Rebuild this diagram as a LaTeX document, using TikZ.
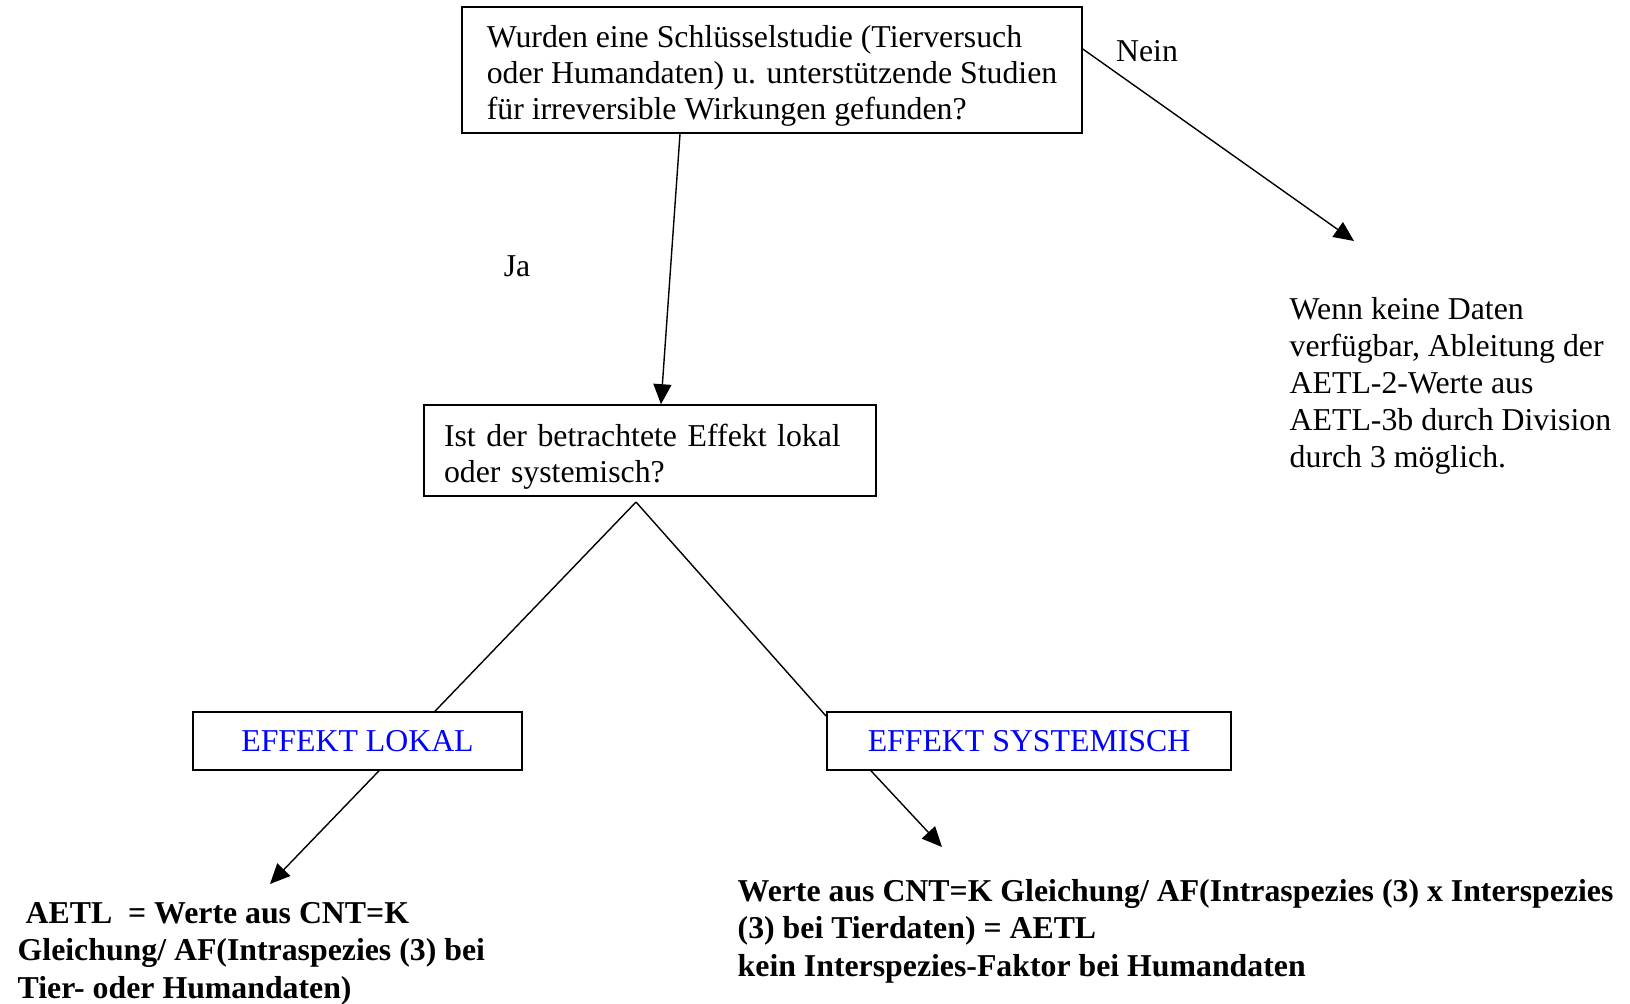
\documentclass[tikz,border=0pt]{standalone}
\usepackage{fontspec}
\setmainfont{Liberation Serif}
\usetikzlibrary{arrows.meta,positioning}

\newcommand{\oben}{\rule{0pt}{17pt}}

\begin{document}
\begin{tikzpicture}[x=0.5pt,y=-0.5pt,>={Triangle[length=10pt,width=9pt]},line width=0.7pt,
  frage/.style={draw,line width=0.8pt,align=left,font=\fontsize{15.9}{18}\selectfont},
  effekt/.style={draw,line width=0.8pt,text=blue,minimum height=29pt,font=\fontsize{15.9}{18}\selectfont},
  ergebnis/.style={align=left,inner sep=0pt,font=\bfseries\fontsize{15.9}{18.6}\selectfont},
  hinweis/.style={align=left,inner sep=0pt,font=\fontsize{15.9}{18.5}\selectfont}]
\useasboundingbox (0,0) rectangle (1630,1003);

\node[frage,minimum width=310pt,minimum height=63pt] (studie) at (772,70)
  {\oben Wurden eine Schlüsselstudie (Tierversuch\\oder Humandaten) u. unterstützende Studien\\für irreversible Wirkungen gefunden?};
\node[frage,text width=206pt,inner xsep=10pt,minimum height=45.5pt] (effekt) at (650,450.5)
  {\oben Ist der betrachtete Effekt lokal\\oder systemisch?};
\node[effekt,minimum width=164.5pt] (lokal) at (357.5,741) {EFFEKT LOKAL};
\node[effekt,minimum width=202pt] (system) at (1029,741) {EFFEKT SYSTEMISCH};

\node[font=\fontsize{15.9}{18}\selectfont] (ja) at (517,266) {Ja};
\node[font=\fontsize{15.9}{18}\selectfont] (nein) at (1147,51) {Nein};

\node[hinweis,anchor=base west] (keinedaten) at (1289,467)
  {Wenn keine Daten\\verfügbar, Ableitung der\\AETL-2-Werte aus\\AETL-3b durch Division\\durch 3 möglich.};
\node[ergebnis,anchor=base west] (lokaltext) at (17,998)
  {\ AETL\ \ = Werte aus CNT=K\\Gleichung/ AF(Intraspezies (3) bei\\Tier- oder Humandaten)};
\node[ergebnis,anchor=base west] (systemtext) at (737,976)
  {Werte aus CNT=K Gleichung/ AF(Intraspezies (3) x Interspezies\\(3) bei Tierdaten) = AETL\\kein Interspezies-Faktor bei Humandaten};

\coordinate (neinende) at (1354,241);
\coordinate (gabel) at (636,502);
\coordinate (lokalende) at (270,884);
\coordinate (systemende) at (942,847);

\draw[->] ([xshift=-46pt]studie.south) -- ([xshift=5.5pt]effekt.north);
\draw[->] ([yshift=10.5pt]studie.east) -- (neinende);
\draw (gabel) -- ([xshift=38.75pt]lokal.north);
\draw (gabel) -- ([yshift=-2.5pt]system.north west);
\draw[->] ([xshift=10.75pt]lokal.south) -- (lokalende);
\draw[->] ([xshift=-79pt]system.south) -- (systemende);
\end{tikzpicture}
\end{document}
